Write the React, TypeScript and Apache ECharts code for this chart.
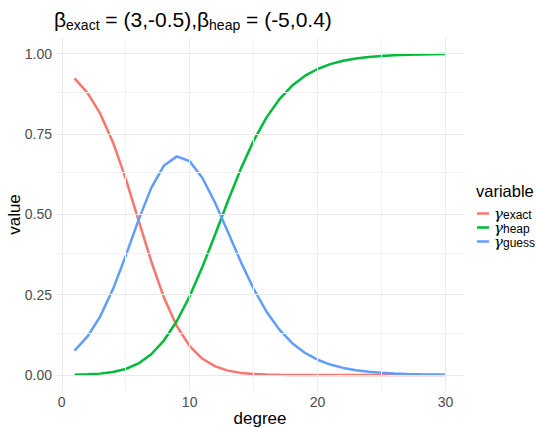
import React, { useEffect, useRef } from "react";
import * as echarts from "echarts";

const degree = [1,2,3,4,5,6,7,8,9,10,11,12,13,14,15,16,17,18,19,20,21,22,23,24,25,26,27,28,29,30];
const gammaExact = [0.9235,0.8792,0.8143,0.7246,0.6110,0.4821,0.3532,0.2399,0.1518,0.0900,0.0503,0.0266,0.0134,0.0064,0.0030,0.0013,0.0006,0.0002,0.0001,0.0000,0,0,0,0,0,0,0,0,0,0];
const gammaHeap = [0.0008,0.0018,0.0041,0.0089,0.0185,0.0358,0.0645,0.1078,0.1678,0.2447,0.3365,0.4382,0.5425,0.6415,0.7289,0.8011,0.8577,0.9000,0.9308,0.9525,0.9677,0.9781,0.9852,0.9900,0.9933,0.9955,0.9970,0.9980,0.9986,0.9991];
const gammaGuess = [0.0758,0.1190,0.1817,0.2665,0.3706,0.4821,0.5823,0.6522,0.6804,0.6652,0.6132,0.5352,0.4441,0.3521,0.2681,0.1976,0.1418,0.0997,0.0691,0.0474,0.0323,0.0219,0.0148,0.0100,0.0067,0.0045,0.0030,0.0020,0.0014,0.0009];

const seriesNames = ["exact", "heap", "guess"];
const seriesColors = ["#F8766D", "#00BA38", "#619CFF"];
const xTicks = [0, 10, 20, 30];
const xMinor = [5, 15, 25];
const yTicks = [0, 0.25, 0.5, 0.75, 1];
const yMinor = [0.125, 0.375, 0.625, 0.875];

const FONT = "'Liberation Sans', Arial, sans-serif";

export default function App() {
  const ref = useRef<HTMLDivElement>(null);
  useEffect(() => {
    document.body.style.margin = "0";
    if (!ref.current) return;
    const chart = echarts.init(ref.current, null, { renderer: "svg" });
    const values = [gammaExact, gammaHeap, gammaGuess];
    const gridMajor = { color: "#ebebeb", width: 1.1, type: "solid" };
    const gridMinor = { color: "#f3f3f3", width: 1, type: "solid" };
    chart.setOption({
      animation: false,
      textStyle: { fontFamily: FONT },
      title: {
        text: "{b|β}{s|exact}{n| = (3,-0.5),}{b|β}{s|heap}{n| = (-5,0.4)}",
        left: 54,
        top: 6,
        padding: 0,
        textStyle: {
          fontWeight: "normal",
          rich: {
            b: { fontSize: 21, lineHeight: 26, color: "#000", fontFamily: FONT, fontWeight: "normal" },
            n: { fontSize: 21, lineHeight: 26, color: "#000", fontFamily: FONT, fontWeight: "normal" },
            s: { fontSize: 14, lineHeight: 18, verticalAlign: "bottom", color: "#000", fontFamily: FONT, fontWeight: "normal" },
          },
        },
      },
      grid: { left: 56, right: 72, top: 38, bottom: 37, containLabel: false, outerBoundsMode: "none" },
      legend: {
        data: seriesNames,
        orient: "vertical",
        left: 477,
        top: 206,
        itemWidth: 12,
        itemHeight: 2.5,
        itemGap: -1,
        icon: "rect",
        padding: 0,
        formatter: (name: string) => `{g|γ}{s|${name}}`,
        textStyle: {
          fontSize: 12,
          lineHeight: 14,
          rich: {
            g: { fontSize: 15, lineHeight: 14, fontFamily: "'DejaVu Serif', 'Liberation Serif', serif", fontStyle: "italic", color: "#000" },
            s: { fontSize: 12, lineHeight: 10, verticalAlign: "bottom", fontFamily: FONT, color: "#000" },
          },
        },
      },
      graphic: [
        {
          type: "text",
          left: 476,
          top: 182,
          style: { text: "variable", fontSize: 16.5, fontFamily: FONT, fill: "#000" },
        },
      ],
      xAxis: {
        type: "value",
        min: -0.45,
        max: 31.45,
        name: "degree",
        nameLocation: "middle",
        nameGap: 19,
        nameMoveOverlap: false,
        nameTextStyle: { fontSize: 17, color: "#000", fontFamily: FONT },
        axisLine: { show: false },
        axisTick: { show: false, customValues: xTicks },
        splitLine: { show: false },
        axisLabel: { customValues: xTicks, fontSize: 14, color: "#4d4d4d", margin: 4, fontFamily: FONT },
      },
      yAxis: {
        type: "value",
        min: -0.05,
        max: 1.049,
        name: "value",
        nameLocation: "middle",
        nameGap: 33,
        nameMoveOverlap: false,
        nameRotate: 90,
        nameTextStyle: { fontSize: 17, color: "#000", fontFamily: FONT },
        axisLine: { show: false },
        axisTick: { show: false, customValues: yTicks },
        splitLine: { show: false },
        axisLabel: {
          customValues: yTicks,
          fontSize: 14,
          color: "#4d4d4d",
          margin: 4,
          fontFamily: FONT,
          formatter: (v: number) => v.toFixed(2),
        },
      },
      series: [
        {
          type: "line",
          name: "__grid",
          data: [],
          z: 1,
          silent: true,
          markLine: {
            silent: true,
            symbol: ["none", "none"],
            label: { show: false },
            animation: false,
            data: [
              ...xMinor.map((v) => ({ xAxis: v, lineStyle: gridMinor })),
              ...yMinor.map((v) => ({ yAxis: v, lineStyle: gridMinor })),
              ...xTicks.map((v) => ({ xAxis: v, lineStyle: gridMajor })),
              ...yTicks.map((v) => ({ yAxis: v, lineStyle: gridMajor })),
            ],
          },
        },
        ...seriesNames.map((n, i) => ({
          type: "line",
          name: n,
          z: 3,
          showSymbol: false,
          symbol: "none",
          color: seriesColors[i],
          lineStyle: { width: 2.5, color: seriesColors[i] },
          itemStyle: { color: seriesColors[i] },
          data: degree.map((d, j) => [d, values[i][j]]),
        })),
      ],
    });
    return () => chart.dispose();
  }, []);
  return <div ref={ref} style={{ width: 536, height: 428 }} />;
}
